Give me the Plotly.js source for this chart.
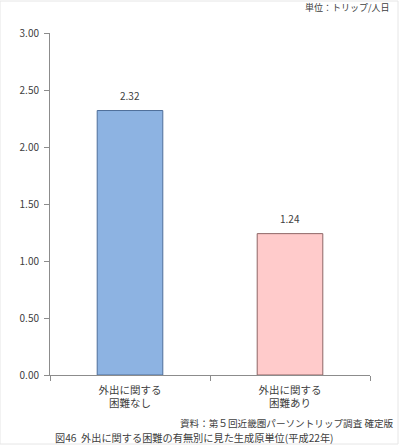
<!DOCTYPE html>
<html><head><meta charset="utf-8">
<script src="https://cdn.plot.ly/plotly-3.0.1.min.js"></script>
<style>html,body{margin:0;padding:0;background:#fff}#c{width:399px;height:445px;box-sizing:border-box}</style>
</head><body><div id="c"></div>
<script>
const categories = ["外出に関する<br>困難なし", "外出に関する<br>困難あり"];
const values = [2.32, 1.24];
const valueLabels = ["2.32", "1.24"];
const fillColors = ["#8DB3E2", "#FFCBCB"];
const lineColors = ["#4F6E9A", "#8E6565"];
const yTickVals = [0, 0.5, 1, 1.5, 2, 2.5, 3];
const yTickText = ["0.00", "0.50", "1.00", "1.50", "2.00", "2.50", "3.00"];
const unitText = "単位：トリップ/人日";
const sourceText = "資料：第５回近畿圏パーソントリップ調査 確定版";
const captionText = "図46  外出に関する困難の有無別に見た生成原単位(平成22年)";

const F = "'Noto Sans CJK JP', 'Noto Sans', sans-serif";
const trace = {
  type: "bar", x: categories, y: values, width: 0.41,
  marker: {color: fillColors, line: {color: lineColors, width: 1}},
  hoverinfo: "none"
};
const annotations = categories.map((c, i) => ({
  x: c, y: values[i], xref: "x", yref: "y", text: valueLabels[i],
  showarrow: false, yanchor: "bottom", yshift: 6,
  font: {family: F, size: 10, color: "#404040"}
}));
annotations.push(
  {xref: "paper", yref: "paper", x: 1.07, y: 1.075, xanchor: "right", yanchor: "middle",
   text: unitText, showarrow: false, font: {family: F, size: 9, color: "#404040"}},
  {xref: "paper", yref: "paper", x: 1.08, y: -0.141, xanchor: "right", yanchor: "middle",
   text: sourceText, showarrow: false, font: {family: F, size: 9.6, color: "#404040"}},
  {xref: "paper", yref: "paper", x: 0.45, y: -0.182, xanchor: "center", yanchor: "middle",
   text: captionText, showarrow: false, font: {family: F, size: 10.2, color: "#404040"}}
);
const layout = {
  width: 399, height: 445,
  margin: {l: 50, r: 29, t: 33, b: 70, pad: 0},
  paper_bgcolor: "#fff", plot_bgcolor: "#fff",
  showlegend: false,
  font: {family: F, size: 10, color: "#404040"},
  xaxis: {
    type: "category", showline: true, linecolor: "#8C8C8C", linewidth: 1,
    ticks: "outside", tickson: "boundaries", ticklen: 5, tickcolor: "#8C8C8C",
    ticklabelstandoff: 5,
    showgrid: false, zeroline: false, fixedrange: true,
    tickfont: {family: F, size: 10.5, color: "#404040"}
  },
  yaxis: {
    range: [0, 3], tickvals: yTickVals, ticktext: yTickText,
    showline: true, linecolor: "#8C8C8C", linewidth: 1,
    ticks: "outside", ticklen: 5, tickcolor: "#8C8C8C", ticklabelstandoff: 3,
    showgrid: false, zeroline: false, fixedrange: true,
    tickfont: {family: F, size: 10, color: "#404040"}
  },
  annotations: annotations,
  shapes: [{type: "rect", xref: "paper", yref: "paper",
    x0: -50/320, x1: 1 + 28/320, y0: -69/342, y1: 1 + 32/342,
    line: {color: "#E6E6E6", width: 1}, fillcolor: "rgba(0,0,0,0)"}]
};
Plotly.newPlot("c", [trace], layout, {displayModeBar: false, staticPlot: true});
</script></body></html>
